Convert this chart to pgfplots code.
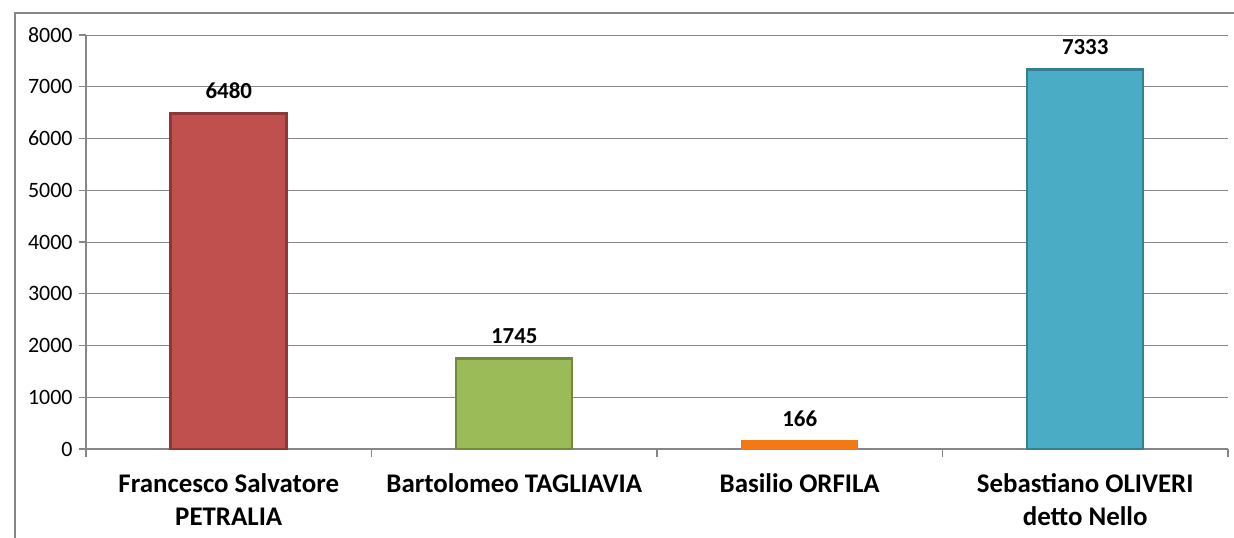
\documentclass[border=0pt]{standalone}
\usepackage{fontspec}
\setmainfont{Carlito}
\usepackage{pgfplots}
\pgfplotsset{compat=1.18}
\definecolor{gridc}{RGB}{134,134,134}
\definecolor{redf}{RGB}{192,80,77}
\definecolor{redd}{RGB}{140,56,54}
\definecolor{greenf}{RGB}{155,187,89}
\definecolor{greend}{RGB}{113,137,62}
\definecolor{orangef}{RGB}{242,121,22}
\definecolor{bluef}{RGB}{75,172,198}
\definecolor{blued}{RGB}{53,127,147}
\begin{document}
\begin{tikzpicture}[x=1bp,y=1bp]
\useasboundingbox (0,0) rectangle (1234,538);
\draw[gridc, line width=1.3bp] (15,0) -- (15,525) -- (1234,525);
\begin{axis}[
  at={(86bp,89bp)}, anchor=south west,
  scale only axis, width=1142bp, height=414bp,
  xmin=-0.5, xmax=3.5, ymin=0, ymax=8000,
  clip=false,
  axis x line*=bottom, axis y line*=left,
  axis line style={gridc, line width=1.2bp},
  ytick={0,1000,...,8000},
  ymajorgrids, grid style={gridc, line width=0.9bp},
  xtick={0,1,2,3},
  xticklabels={{Francesco Salvatore\\PETRALIA},{Bartolomeo TAGLIAVIA},{Basilio ORFILA},{Sebastiano OLIVERI\\detto Nello}},
  minor xtick={-0.5,0.5,1.5,2.5,3.5},
  tick align=outside,
  major tick length=7bp, minor tick length=8bp,
  major x tick style={draw=none},
  minor x tick style={gridc, line width=1.2bp},
  major y tick style={gridc, line width=1.2bp},
  /pgf/number format/assume math mode=true,
  /pgf/number format/1000 sep={},
  yticklabel style={font=\fontsize{22}{26}\selectfont, xshift=-3bp},
  xticklabel style={font=\bfseries\fontsize{27}{33}\selectfont, align=center, anchor=north, yshift=-14bp},
  nodes near coords,
  every node near coord/.append style={font=\bfseries\fontsize{23}{27}\selectfont, black, yshift=10bp},
]
\addplot[ybar, bar shift=0pt, bar width=116bp, fill=redf, draw=redd, line width=2.5bp] coordinates {(0,6480)};
\addplot[ybar, bar shift=0pt, bar width=116bp, fill=greenf, draw=greend, line width=2.5bp] coordinates {(1,1745)};
\addplot[ybar, bar shift=0pt, bar width=116bp, fill=orangef, draw=orangef, line width=0.5bp] coordinates {(2,166)};
\addplot[ybar, bar shift=0pt, bar width=116bp, fill=bluef, draw=blued, line width=2.5bp] coordinates {(3,7333)};
\end{axis}
\end{tikzpicture}
\end{document}
